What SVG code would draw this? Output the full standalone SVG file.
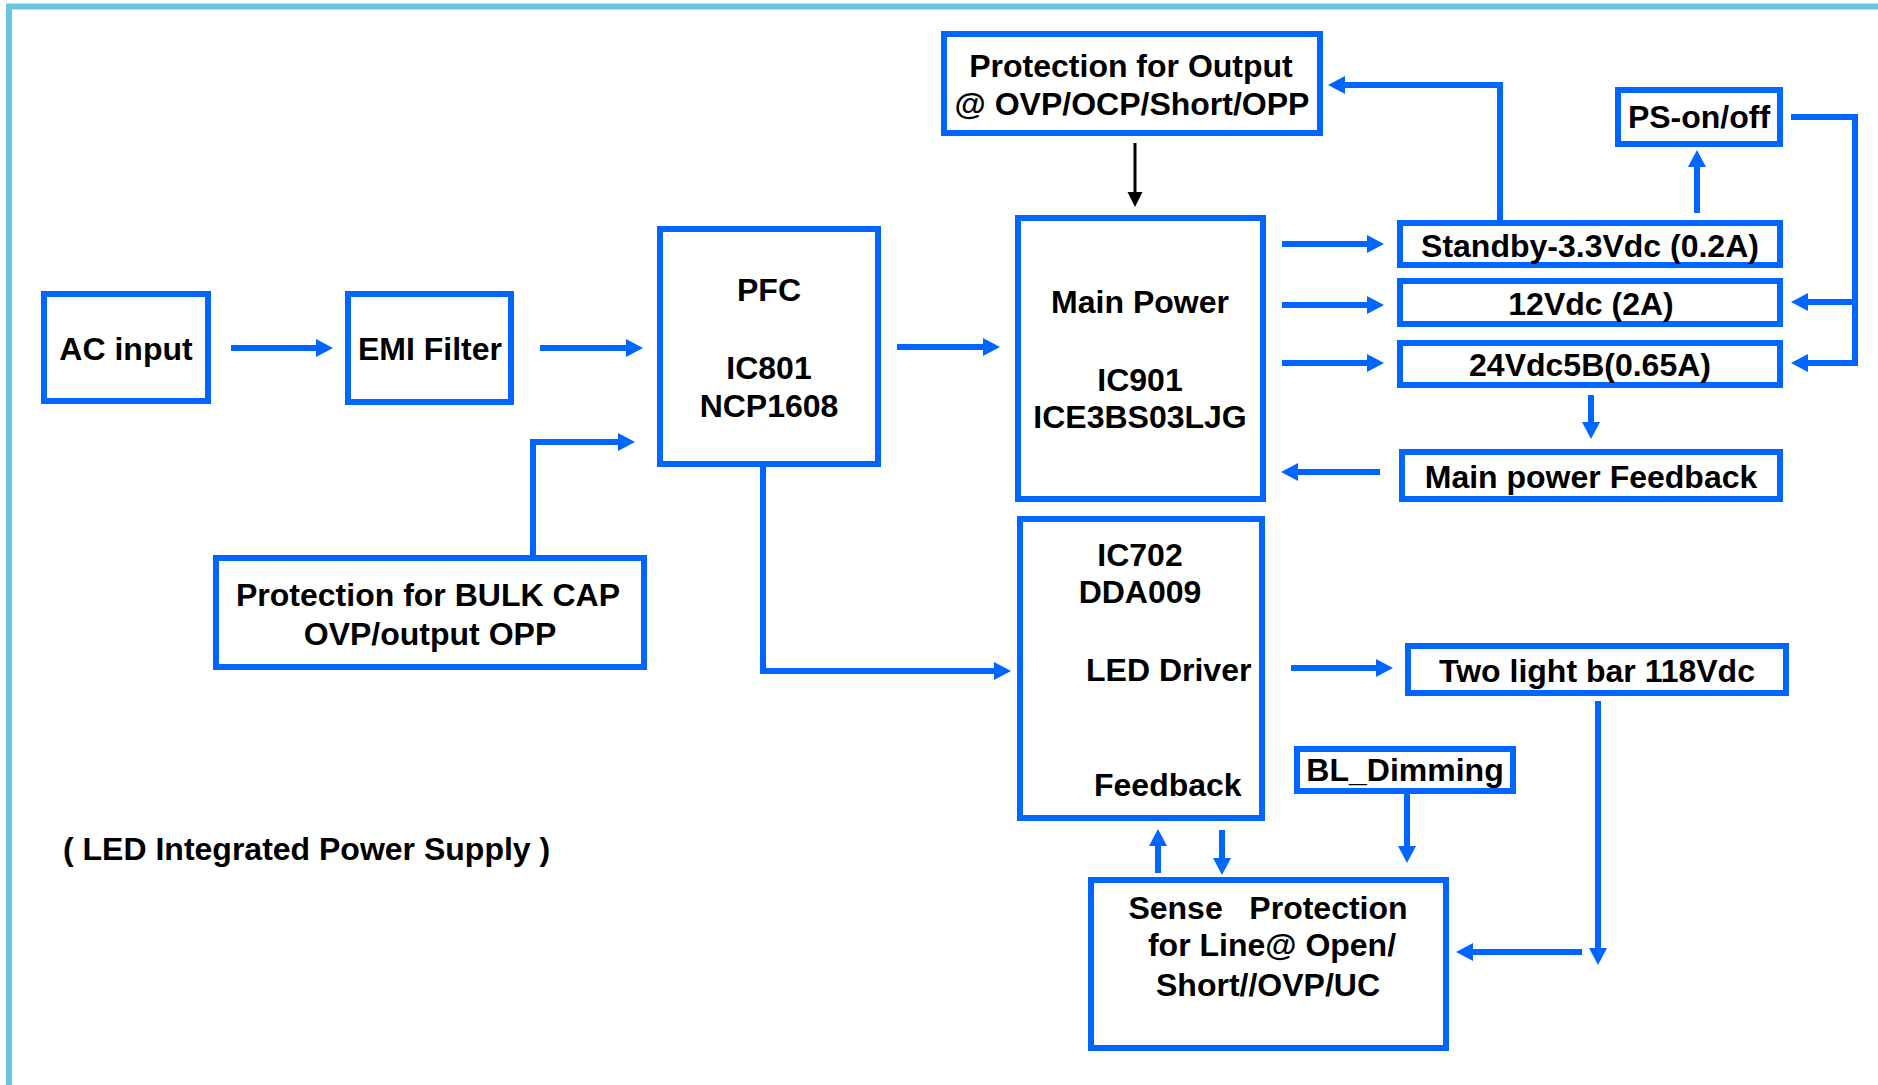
<svg xmlns="http://www.w3.org/2000/svg" width="1878" height="1085" viewBox="0 0 1878 1085">
<style>
.box{fill:#ffffff;stroke:#0066ff;stroke-width:6}
.t{font-family:"Liberation Sans",Arial,sans-serif;font-weight:bold;font-size:32px;fill:#000000;white-space:pre}
.m{text-anchor:middle}
.c{fill:none;stroke:#0066ff;stroke-width:6}
.k{fill:none;stroke:#000000;stroke-width:3}
</style>
<defs>
<marker id="ah" markerUnits="userSpaceOnUse" markerWidth="18" markerHeight="18" refX="0" refY="9" orient="auto" viewBox="0 0 18 18">
<path d="M0,0 L17,9 L0,18 Z" fill="#0066ff"/>
</marker>
<marker id="akh" markerUnits="userSpaceOnUse" markerWidth="16" markerHeight="16" refX="0" refY="7.5" orient="auto" viewBox="0 0 16 16">
<path d="M0,0 L15,7.5 L0,15 Z" fill="#000000"/>
</marker>
</defs>
<rect width="1878" height="1085" fill="#ffffff"/>
<rect x="9" y="6.5" width="2000" height="2000" fill="none" stroke="#6cc5dd" stroke-width="6"/>

<g id="connectors">
<path class="c" d="M231,348 H316" marker-end="url(#ah)"/>
<path class="c" d="M540,348 H626" marker-end="url(#ah)"/>
<path class="c" d="M533,555 V442 H618" marker-end="url(#ah)"/>
<path class="c" d="M897,347 H983" marker-end="url(#ah)"/>
<path class="c" d="M763,467 V671 H994" marker-end="url(#ah)"/>
<path class="k" d="M1135,143 V192" marker-end="url(#akh)"/>
<path class="c" d="M1282,244 H1367" marker-end="url(#ah)"/>
<path class="c" d="M1282,305 H1367" marker-end="url(#ah)"/>
<path class="c" d="M1282,363 H1367" marker-end="url(#ah)"/>
<path class="c" d="M1500,220 V85 H1345" marker-end="url(#ah)"/>
<path class="c" d="M1697,213 V167" marker-end="url(#ah)"/>
<path class="c" d="M1791,117 H1855 V363 H1808" marker-end="url(#ah)"/>
<path class="c" d="M1855,302 H1808" marker-end="url(#ah)"/>
<path class="c" d="M1591,395 V422" marker-end="url(#ah)"/>
<path class="c" d="M1380,472 H1298" marker-end="url(#ah)"/>
<path class="c" d="M1291,668 H1376" marker-end="url(#ah)"/>
<path class="c" d="M1598,701 V948" marker-end="url(#ah)"/>
<path class="c" d="M1582,952 H1473" marker-end="url(#ah)"/>
<path class="c" d="M1407,794 V846" marker-end="url(#ah)"/>
<path class="c" d="M1158,873 V846" marker-end="url(#ah)"/>
<path class="c" d="M1222,830 V858" marker-end="url(#ah)"/>
</g>

<g id="ac-input">
<rect class="box" x="44" y="294" width="164" height="107"/>
<text class="t m" x="126" y="360">AC input</text>
</g>
<g id="emi-filter">
<rect class="box" x="348" y="294" width="163" height="108"/>
<text class="t m" x="430" y="360">EMI Filter</text>
</g>
<g id="pfc">
<rect class="box" x="660" y="229" width="218" height="235"/>
<text class="t m" x="769" y="301">PFC</text>
<text class="t m" x="769" y="379">IC801</text>
<text class="t m" x="769" y="417">NCP1608</text>
</g>
<g id="protection-bulk">
<rect class="box" x="216" y="558" width="428" height="109"/>
<text class="t m" x="428" y="606">Protection for BULK CAP</text>
<text class="t m" x="430" y="645">OVP/output OPP</text>
</g>
<g id="protection-output">
<rect class="box" x="944" y="34" width="376" height="99"/>
<text class="t m" x="1131" y="77">Protection for Output</text>
<text class="t m" x="1132" y="115">@ OVP/OCP/Short/OPP</text>
</g>
<g id="main-power">
<rect class="box" x="1018" y="218" width="245" height="281"/>
<text class="t m" x="1140" y="313">Main Power</text>
<text class="t m" x="1140" y="391">IC901</text>
<text class="t m" x="1140" y="428">ICE3BS03LJG</text>
</g>
<g id="ps-onoff">
<rect class="box" x="1618" y="90" width="162" height="54"/>
<text class="t m" x="1699" y="128">PS-on/off</text>
</g>
<g id="standby">
<rect class="box" x="1400" y="223" width="380" height="42"/>
<text class="t m" x="1590" y="257">Standby-3.3Vdc (0.2A)</text>
</g>
<g id="v12">
<rect class="box" x="1400" y="281" width="380" height="43"/>
<text class="t m" x="1591" y="315">12Vdc (2A)</text>
</g>
<g id="v24">
<rect class="box" x="1400" y="343" width="380" height="42"/>
<text class="t m" x="1590" y="376">24Vdc5B(0.65A)</text>
</g>
<g id="main-feedback">
<rect class="box" x="1402" y="452" width="378" height="47"/>
<text class="t m" x="1591" y="488">Main power Feedback</text>
</g>
<g id="led-driver">
<rect class="box" x="1020" y="519" width="242" height="299"/>
<text class="t m" x="1140" y="566">IC702</text>
<text class="t m" x="1140" y="603">DDA009</text>
<text class="t" x="1086" y="681">LED Driver</text>
<text class="t" x="1094" y="796">Feedback</text>
</g>
<g id="light-bar">
<rect class="box" x="1408" y="646" width="378" height="47"/>
<text class="t m" x="1597" y="682">Two light bar 118Vdc</text>
</g>
<g id="bl-dimming">
<rect class="box" x="1297" y="749" width="216" height="42"/>
<text class="t m" x="1405" y="781">BL_Dimming</text>
</g>
<g id="sense-protection">
<rect class="box" x="1091" y="880" width="355" height="168"/>
<text class="t m" x="1268" y="919">Sense   Protection</text>
<text class="t m" x="1272" y="956">for Line@ Open/</text>
<text class="t m" x="1268" y="996">Short//OVP/UC</text>
</g>
<g id="caption">
<text class="t" x="63" y="860">( LED Integrated Power Supply )</text>
</g>
</svg>
